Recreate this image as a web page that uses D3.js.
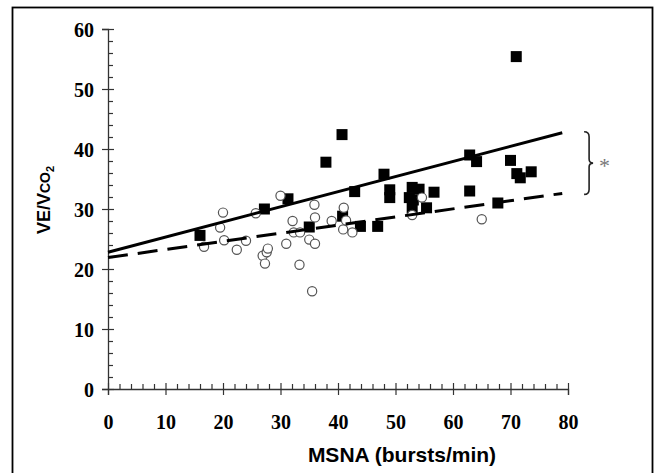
<!DOCTYPE html>
<html><head><meta charset="utf-8">
<script src="https://cdn.jsdelivr.net/npm/d3@7"></script>
<style>body{margin:0;background:#fff}svg{display:block}</style>
</head><body>
<svg id="chart" width="654" height="473"></svg>
<script>
// Data
const xTicks = [0,10,20,30,40,50,60,70,80];
const yTicks = [0,10,20,30,40,50,60];
const xMinor = d3.range(0,81,2).filter(v=>v%10!==0);
const yMinor = d3.range(0,61,2).filter(v=>v%10!==0);
// filled squares (MSNA, VE/VCO2)
const groupSquaresX = [16,27.2,31.3,35.0,37.9,40.7,40.8,42.9,43.9,46.9,48.0,49.0,49.0,52.4,52.9,53.1,52.9,54.1,55.4,56.7,62.9,62.9,64.1,67.8,70.0,71.0,71.1,71.7,73.6];
const groupSquaresY = [25.6,30.0,31.7,27.0,37.8,42.4,28.8,32.9,27.1,27.1,35.8,33.2,31.9,31.9,33.6,31.5,30.1,33.3,30.2,32.8,39.0,33.0,37.9,31.0,38.1,55.4,35.9,35.2,36.2];
// open circles
const groupCirclesX = [16.7,20.0,19.5,20.2,22.4,24.0,25.7,26.9,27.3,27.6,27.8,30.0,31.0,32.1,32.3,33.4,33.3,35.0,35.5,35.9,36.0,36.0,38.9,41.0,40.9,41.4,42.5,52.9,54.6,65.0];
const groupCirclesY = [23.7,29.4,26.9,24.8,23.2,24.7,29.3,22.2,20.9,22.8,23.4,32.2,24.2,28.0,26.1,26.1,20.7,24.9,16.3,30.7,28.6,24.2,28.0,30.2,26.6,28.1,26.1,29.0,31.9,28.3];
// regression lines (endpoints)
const solidLineX = [0,79];
const solidLineY = [22.8,42.7];
const dashedLineX = [0,79];
const dashedLineY = [21.9,32.6];

const svg = d3.select("#chart");
const x = d3.scaleLinear().domain([0,80]).range([108,568]);
const y = d3.scaleLinear().domain([0,60]).range([389,29]);

// frame
svg.append("rect").attr("x",12.5).attr("y",7.5).attr("width",640).attr("height",480)
  .attr("fill","none").attr("stroke","#000").attr("stroke-width",1.8);

const axisColor = "#333";
// x axis
const gx = svg.append("g").attr("transform",`translate(0,${y(0)})`);
gx.call(d3.axisBottom(x).tickValues(xTicks).tickSize(6).tickPadding(20).tickFormat(d3.format("d")));
gx.selectAll(".tick line").attr("y1",-6).attr("y2",6);
const gxm = svg.append("g").attr("transform",`translate(0,${y(0)})`);
gxm.call(d3.axisBottom(x).tickValues(xMinor).tickSize(-5).tickFormat(""));
gxm.select(".domain").remove();
// y axis
const gy = svg.append("g").attr("transform",`translate(${x(0)},0)`);
gy.call(d3.axisLeft(y).tickValues(yTicks).tickSize(6).tickPadding(8).tickFormat(d3.format("d")));
gy.selectAll(".tick line").attr("x1",-6).attr("x2",6);
const gym = svg.append("g").attr("transform",`translate(${x(0)},0)`);
gym.call(d3.axisLeft(y).tickValues(yMinor).tickSize(-5).tickFormat(""));
gym.select(".domain").remove();

svg.selectAll(".domain").attr("stroke",axisColor).attr("stroke-width",1.3);
svg.selectAll(".tick line").attr("stroke",axisColor).attr("stroke-width",1.2);
svg.selectAll(".tick text").attr("font-family","'Liberation Serif','Times New Roman',serif")
  .attr("font-weight","bold").attr("font-size",20).attr("fill","#000");
gy.selectAll(".tick text").attr("dy","0.38em");

// squares
const sq = 11;
svg.append("g").selectAll("rect").data(groupSquaresX.map((v,i)=>[v,groupSquaresY[i]]))
  .join("rect").attr("x",d=>x(d[0])-sq/2).attr("y",d=>y(d[1])-sq/2)
  .attr("width",sq).attr("height",sq).attr("fill","#000");

// circles
svg.append("g").selectAll("circle").data(groupCirclesX.map((v,i)=>[v,groupCirclesY[i]]))
  .join("circle").attr("cx",d=>x(d[0])).attr("cy",d=>y(d[1])).attr("r",4.6)
  .attr("fill","#fff").attr("stroke","#555").attr("stroke-width",1.2);

// regression lines
const line = d3.line().x(d=>x(d[0])).y(d=>y(d[1]));
svg.append("path").datum(solidLineX.map((v,i)=>[v,solidLineY[i]]))
  .attr("d",line).attr("fill","none").attr("stroke","#000").attr("stroke-width",3);
svg.append("path").datum(dashedLineX.map((v,i)=>[v,dashedLineY[i]]))
  .attr("d",line).attr("fill","none").attr("stroke","#000").attr("stroke-width",3)
  .attr("stroke-dasharray","20,10");

// bracket
const bx = x(82.8), bTop = y(solidLineY[1]) - 1, bBot = y(dashedLineY[1]) + 1, bMid = (bTop+bBot)/2;
const bp = d3.path();
bp.moveTo(bx, bTop);
bp.quadraticCurveTo(bx+5, bTop, bx+5, bTop+5);
bp.lineTo(bx+5, bMid-4);
bp.quadraticCurveTo(bx+5, bMid, bx+9, bMid);
bp.quadraticCurveTo(bx+5, bMid, bx+5, bMid+4);
bp.lineTo(bx+5, bBot-5);
bp.quadraticCurveTo(bx+5, bBot, bx, bBot);
svg.append("path").attr("d",bp.toString()).attr("fill","none").attr("stroke","#222").attr("stroke-width",1.6);
svg.append("text").attr("x",bx+15).attr("y",bMid+10).text("*")
  .attr("font-family","'Liberation Serif',serif").attr("font-size",22).attr("fill","#777");

// axis titles
svg.append("text").attr("x",402).attr("y",462).attr("text-anchor","middle")
  .attr("font-family","'Liberation Sans',Arial,sans-serif").attr("font-weight","bold")
  .attr("font-size",21).attr("fill","#000").text("MSNA (bursts/min)");
const yl = svg.append("text").attr("transform","translate(50,200) rotate(-90)")
  .attr("text-anchor","middle").attr("font-family","'Liberation Sans',Arial,sans-serif")
  .attr("font-weight","bold").attr("font-size",18).attr("fill","#000");
yl.append("tspan").text("VE/V");
yl.append("tspan").attr("font-size",14).text("CO");
yl.append("tspan").attr("font-size",11).attr("dy",4).text("2");
</script>
</body></html>
